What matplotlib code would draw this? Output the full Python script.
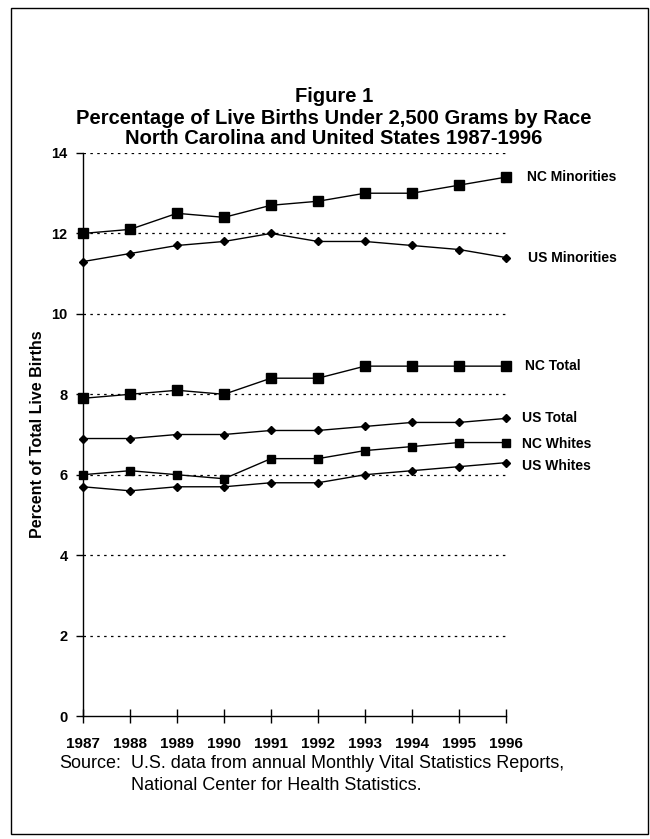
import matplotlib.pyplot as plt
from matplotlib.patches import Rectangle

plt.rcParams['font.family'] = ['Liberation Sans', 'DejaVu Sans']

# datos
anios = [1987, 1988, 1989, 1990, 1991, 1992, 1993, 1994, 1995, 1996]
nc_minorias = [12.0, 12.1, 12.5, 12.4, 12.7, 12.8, 13.0, 13.0, 13.2, 13.4]
us_minorias = [11.3, 11.5, 11.7, 11.8, 12.0, 11.8, 11.8, 11.7, 11.6, 11.4]
nc_total = [7.9, 8.0, 8.1, 8.0, 8.4, 8.4, 8.7, 8.7, 8.7, 8.7]
us_total = [6.9, 6.9, 7.0, 7.0, 7.1, 7.1, 7.2, 7.3, 7.3, 7.4]
nc_blancos = [6.0, 6.1, 6.0, 5.9, 6.4, 6.4, 6.6, 6.7, 6.8, 6.8]
us_blancos = [5.7, 5.6, 5.7, 5.7, 5.8, 5.8, 6.0, 6.1, 6.2, 6.3]
etiquetas = ["NC Minorities", "US Minorities", "NC Total", "US Total", "NC Whites", "US Whites"]
yticks = [0, 2, 4, 6, 8, 10, 12, 14]

W, H = 650, 839
fig = plt.figure(figsize=(W / 100, H / 100), dpi=100)
ax = fig.add_axes([83 / W, 1 - 716 / H, (506 - 83) / W, (716 - 153) / H])

# estilo de cada serie: (datos, marcador, tamaño, desplazamiento etiqueta en px)
series = [
    (nc_minorias, 's', 6.5, (21, 0)),
    (us_minorias, 'D', 4.2, (22, 0)),
    (nc_total, 's', 7.5, (19, 0)),
    (us_total, 'D', 4.2, (16, 0)),
    (nc_blancos, 's', 6.0, (16, -1)),
    (us_blancos, 'D', 4.2, (16, -3)),
]

for (datos, marca, tam, off), nombre in zip(series, etiquetas):
    ax.plot(anios, datos, color='black', lw=1.0, marker=marca, markersize=tam,
            clip_on=False, zorder=3)
    ax.annotate(nombre, xy=(anios[-1], datos[-1]),
                xytext=(off[0] * 0.72, off[1] * 0.72), textcoords='offset points',
                ha='left', va='center', fontsize=10, fontweight='bold')

ax.set_xlim(1987, 1996)
ax.set_ylim(0, 14)
ax.set_xticks(anios)
ax.set_yticks(yticks)
ax.set_xticklabels([str(a) for a in anios], fontsize=11, fontweight='bold')
ax.set_yticklabels([str(v) for v in yticks], fontsize=10.5, fontweight='bold')
ax.tick_params(axis='x', direction='inout', length=10, width=1, pad=10)
ax.tick_params(axis='y', direction='out', length=5, width=1, pad=6)

for v in yticks[1:]:
    ax.axhline(v, color='black', lw=0.9, linestyle=(0, (2, 3.5)), zorder=1)

ax.spines['top'].set_visible(False)
ax.spines['right'].set_visible(False)
ax.spines['left'].set_linewidth(1)
ax.spines['bottom'].set_linewidth(1)

ax.set_ylabel("Percent of Total Live Births", fontsize=11.5, fontweight='bold', labelpad=5)

# titulo
fig.text(334 / W, 1 - 97 / H, "Figure 1", ha='center', va='center', fontsize=14.5, fontweight='bold')
fig.text(334 / W, 1 - 118 / H, "Percentage of Live Births Under 2,500 Grams by Race",
         ha='center', va='center', fontsize=14.5, fontweight='bold')
fig.text(334 / W, 1 - 139 / H, "North Carolina and United States 1987-1996",
         ha='center', va='center', fontsize=14.5, fontweight='bold')

# fuente
fig.text(59 / W, 1 - 763 / H, "Source:", ha='left', va='center', fontsize=13)
fig.text(131 / W, 1 - 763 / H, "U.S. data from annual Monthly Vital Statistics Reports,",
         ha='left', va='center', fontsize=13)
fig.text(131 / W, 1 - 785 / H, "National Center for Health Statistics.",
         ha='left', va='center', fontsize=13)

# marco
fig.patches.append(Rectangle((11 / W, 1 - 834 / H), (648 - 11) / W, (834 - 8) / H,
                             transform=fig.transFigure, fill=False, edgecolor='black', lw=1))

plt.savefig("out.png", dpi=100)
plt.close()
